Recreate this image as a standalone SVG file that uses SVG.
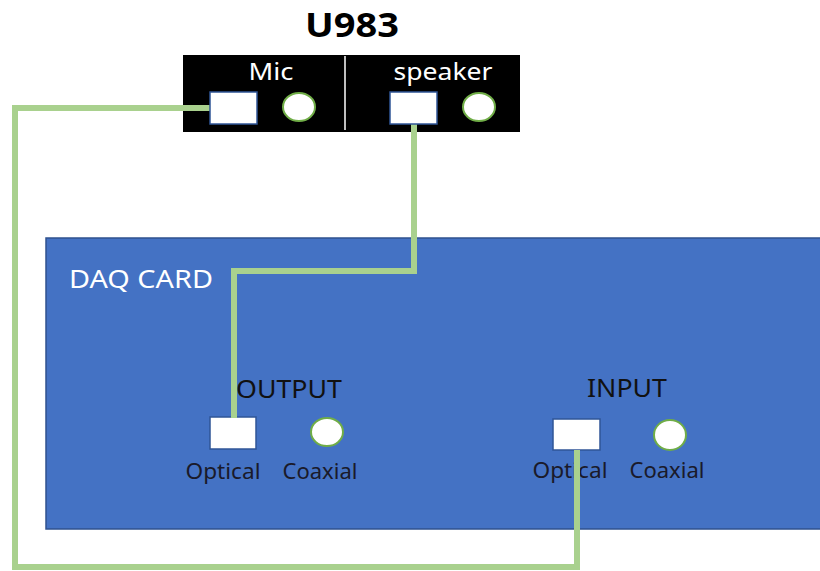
<svg xmlns="http://www.w3.org/2000/svg" width="820" height="571" viewBox="0 0 820 571">
<style>
.port{fill:#fff;stroke:#2F5597;stroke-width:1.5}
.jack{fill:#fff;stroke:#70AD47;stroke-width:2}
.wire{fill:none;stroke:#A9D18E;stroke-width:6;stroke-linejoin:miter}
.lbl{font-family:"Noto Sans","Open Sans","DejaVu Sans",sans-serif;text-anchor:middle}
</style>
<rect width="820" height="571" fill="#fff"/>
<g id="daq">
<rect x="46" y="238" width="790" height="291" fill="#4472C4" stroke="#2F528F" stroke-width="1.5"/>
<text class="lbl" x="69" y="288" font-size="25" fill="#fff" style="text-anchor:start" textLength="144" lengthAdjust="spacingAndGlyphs">DAQ CARD</text>
</g>
<g id="output">
<text class="lbl" x="289" y="398" font-size="25" fill="#111" textLength="106" lengthAdjust="spacingAndGlyphs">OUTPUT</text>
<rect class="port" x="210" y="417" width="46" height="32"/>
<ellipse class="jack" cx="327" cy="432" rx="16" ry="14"/>
<text class="lbl" x="223" y="479" font-size="21" fill="#1a1a2a" textLength="75" lengthAdjust="spacingAndGlyphs">Optical</text>
<text class="lbl" x="320" y="479" font-size="21" fill="#1a1a2a" textLength="75" lengthAdjust="spacingAndGlyphs">Coaxial</text>
</g>
<g id="input">
<text class="lbl" x="627" y="397" font-size="25" fill="#111" textLength="80" lengthAdjust="spacingAndGlyphs">INPUT</text>
<rect class="port" x="553" y="419" width="47" height="31"/>
<ellipse class="jack" cx="670" cy="435" rx="16" ry="15"/>
<text class="lbl" x="570" y="478" font-size="21" fill="#1a1a2a" textLength="75" lengthAdjust="spacingAndGlyphs">Optical</text>
<text class="lbl" x="667" y="478" font-size="21" fill="#1a1a2a" textLength="75" lengthAdjust="spacingAndGlyphs">Coaxial</text>
</g>
<g id="u983">
<text class="lbl" x="352" y="37" font-size="34" font-weight="bold" fill="#000" textLength="94" lengthAdjust="spacingAndGlyphs">U983</text>
<rect x="183" y="55" width="337" height="77" fill="#000"/>
<line x1="345" y1="56" x2="345" y2="130" stroke="#fff" stroke-width="1.5"/>
<text class="lbl" x="271" y="80" font-size="23" fill="#fff" textLength="45" lengthAdjust="spacingAndGlyphs">Mic</text>
<text class="lbl" x="443" y="80" font-size="23" fill="#fff" textLength="99" lengthAdjust="spacingAndGlyphs">speaker</text>
</g>
<g id="connectors">
<polyline class="wire" points="211,108 15,108 15,567 577,567 577,450"/>
<polyline class="wire" points="414,124 414,271 234,271 234,418"/>
</g>
<g id="u983-ports">
<rect class="port" x="210" y="92" width="47" height="32"/>
<ellipse class="jack" cx="299" cy="107" rx="16" ry="14"/>
<rect class="port" x="390" y="92" width="47" height="32"/>
<ellipse class="jack" cx="479" cy="107" rx="16" ry="14"/>
</g>
</svg>
